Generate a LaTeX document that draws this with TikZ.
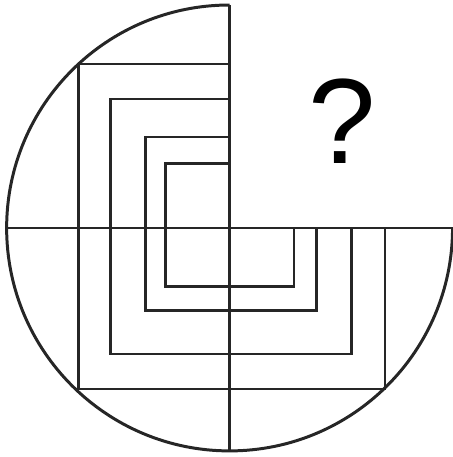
\documentclass[tikz,border=0pt]{standalone}
\usepackage{fontspec}
\setmainfont{Liberation Sans}
\begin{document}
\begin{tikzpicture}[
  x=0.02cm, y=0.02cm,
  line/.style={draw=black!85, line width=1.7pt},
  qsign/.style={inner sep=0pt, font=\fontsize{69}{80}\selectfont}
]
\useasboundingbox (-229.6,-229) rectangle (223.4,228);
% three quarters of the circle and the axes
\draw[line] (0,223) arc[start angle=90, end angle=360, radius=4.46cm];
\draw[line] (-223,0) -- (223,0);
\draw[line] (0,223) -- (0,-223);
% nested frames: left/top/bottom/right
\foreach \l/\t/\b/\r in {-151/164/-161/155.4, -119.3/129/-126/122,
                         -84.3/91/-82.7/87, -64/64.3/-58.5/64.4}
  \draw[line] (0,\t) -| (\l,\b) -| (\r,0);
\node[qsign] (q) at (112.4,107) {?};
\end{tikzpicture}
\end{document}
